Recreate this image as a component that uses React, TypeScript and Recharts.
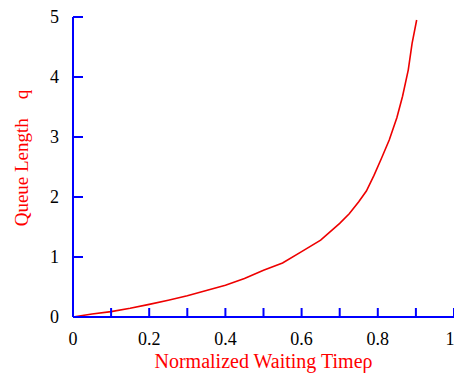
import { LineChart, Line, XAxis, YAxis, Label } from 'recharts';

const rho = [0, 0.05, 0.1, 0.15, 0.2, 0.25, 0.3, 0.35, 0.4, 0.45, 0.5, 0.55, 0.6, 0.65, 0.7, 0.725, 0.75, 0.77, 0.79, 0.81, 0.83, 0.85, 0.865, 0.88, 0.89, 0.902];
const queue = [0, 0.05, 0.09, 0.145, 0.21, 0.28, 0.355, 0.44, 0.53, 0.64, 0.78, 0.9, 1.09, 1.28, 1.56, 1.72, 1.92, 2.1, 2.36, 2.65, 2.95, 3.32, 3.68, 4.12, 4.56, 4.95];
const xTicks = [0, 0.1, 0.2, 0.3, 0.4, 0.5, 0.6, 0.7, 0.8, 0.9, 1];
const yTicks = [0, 1, 2, 3, 4, 5];

const data = rho.map((r, i) => ({ rho: r, q: queue[i] }));

const AXIS = '#0000ff';
const FONT = '"Liberation Serif", "Times New Roman", serif';

const XTick = (props: any) => {
    const { x, y, payload } = props;
    const v = payload.value;
    if (Math.round(v * 10) % 2 !== 0) return null;
    return (
        <text x={x} y={y} dy="0.71em" textAnchor="middle" fill="#000" fontSize={18} fontFamily={FONT}>
            {String(v)}
        </text>
    );
};

const YTick = (props: any) => {
    const { x, y, payload } = props;
    return (
        <text x={x} y={y} dy="0.355em" textAnchor="end" fill="#000" fontSize={18} fontFamily={FONT}>
            {String(payload.value)}
        </text>
    );
};

const App = () => {
    return (
        <div style={{ position: 'absolute', left: 0, top: 0, fontFamily: FONT }}>
            <LineChart width={454} height={377} data={data} margin={{ top: 17, right: 0, left: 0, bottom: 0 }}>
                <XAxis
                    dataKey="rho"
                    type="number"
                    domain={[0, 1]}
                    ticks={xTicks}
                    height={60}
                    stroke={AXIS}
                    strokeWidth={2}
                    tickSize={-9}
                    tickMargin={24}
                    tick={<XTick />}
                >
                    {/* x title */}
                    <Label
                        content={(props: any) => {
                            const vb = props.viewBox;
                            return (
                                <text x={vb.x + vb.width / 2} y={vb.y + 51} textAnchor="middle" fill="#ff0000" fontSize={20} fontFamily={FONT}>
                                    Normalized Waiting Timeρ
                                </text>
                            );
                        }}
                    />
                </XAxis>
                <YAxis
                    type="number"
                    domain={[0, 5]}
                    ticks={yTicks}
                    width={73}
                    stroke={AXIS}
                    strokeWidth={2}
                    tickSize={-10}
                    tickMargin={24}
                    tick={<YTick />}
                >
                    {/* y title, rotated */}
                    <Label
                        content={(props: any) => {
                            const vb = props.viewBox;
                            const cx = vb.x + 28;
                            const cy = vb.y + vb.height / 2 - 9;
                            return (
                                <text x={cx} y={cy} transform={`rotate(-90 ${cx} ${cy})`} textAnchor="middle" fill="#ff0000" fontSize={19} fontFamily={FONT}>
                                    {'Queue Length\u00a0\u00a0\u00a0\u00a0q'}
                                </text>
                            );
                        }}
                    />
                </YAxis>
                <Line type="linear" dataKey="q" stroke="#ee0000" strokeWidth={1.6} dot={false} isAnimationActive={false} />
            </LineChart>
        </div>
    );
};

export default App;
